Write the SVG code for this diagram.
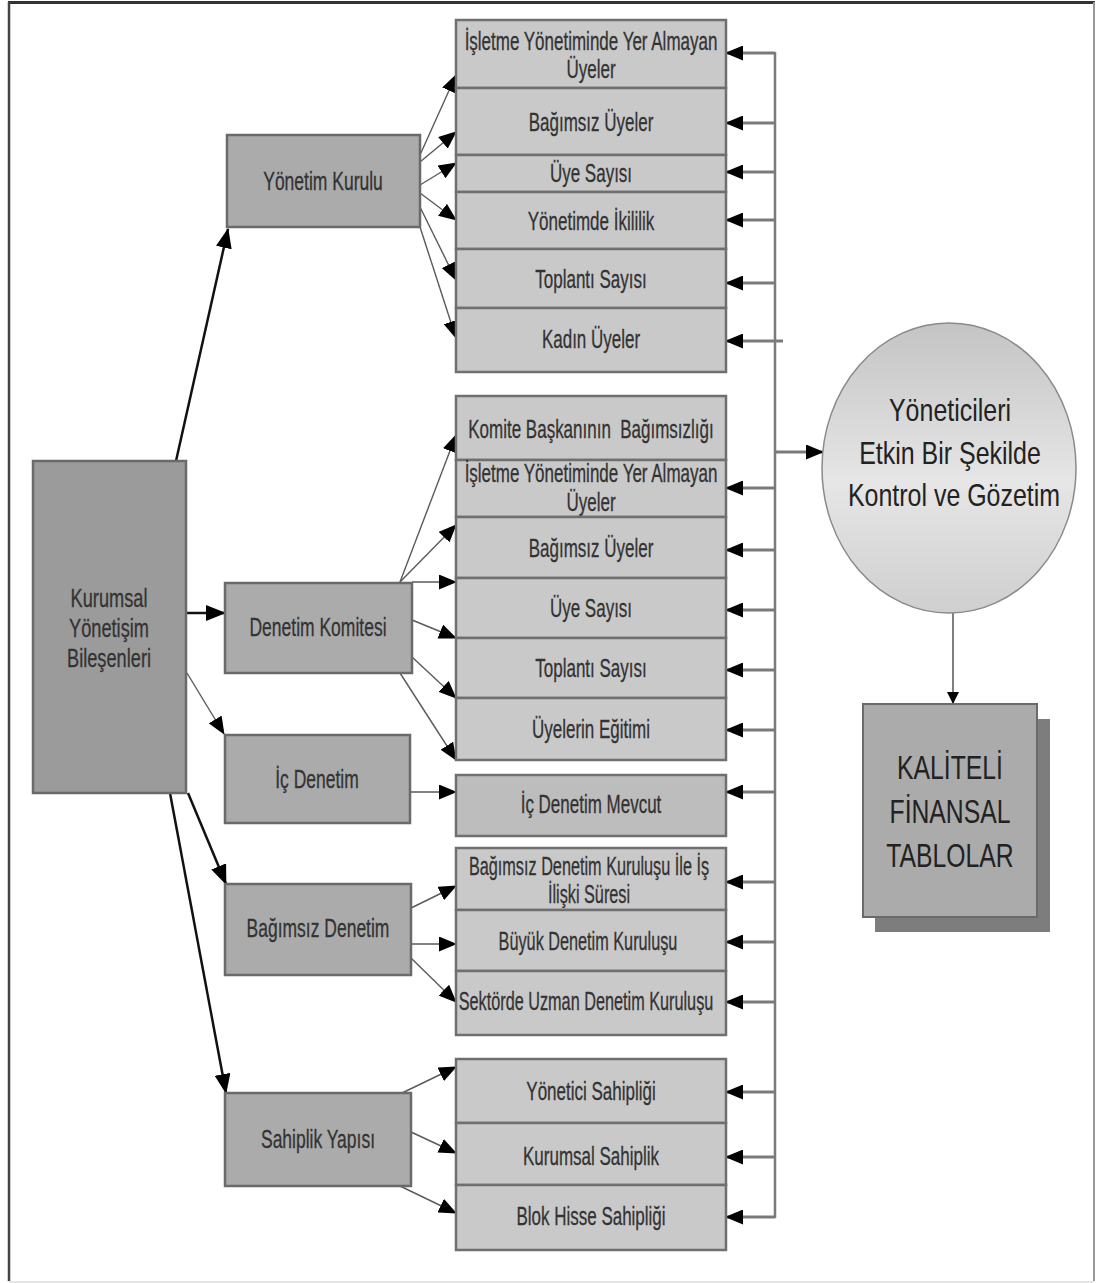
<svg xmlns="http://www.w3.org/2000/svg" width="1097" height="1283" viewBox="0 0 1097 1283">
<defs>
<style>
.main{fill:#9b9b9b;stroke:#6a6a6a;stroke-width:2.5}
.lbox{fill:#ababab;stroke:#6a6a6a;stroke-width:2.5}
.ibox{fill:#c9c9c9;stroke:#6f6f6f;stroke-width:2.5}
.ibox2{fill:#bdbdbd;stroke:#6f6f6f;stroke-width:2.5}
.t{font-family:"Liberation Sans",Arial,sans-serif;font-size:25px;fill:#333;stroke:#333;stroke-width:0.3;text-anchor:middle}
.big{font-family:"Liberation Sans",Arial,sans-serif;fill:#222;text-anchor:middle}
.thick{stroke:#111;stroke-width:2.5;fill:none;marker-end:url(#ahb)}
.thin{stroke:#5a5a5a;stroke-width:1.4;fill:none;marker-end:url(#ah)}
.rt{stroke:#7a7a7a;stroke-width:3;fill:none;marker-end:url(#ah)}
.vert{stroke:#7a7a7a;stroke-width:2.5;fill:none}
</style>
<marker id="ah" markerWidth="18" markerHeight="15" refX="17" refY="7.5" orient="auto" markerUnits="userSpaceOnUse"><path d="M0,0 L18,7.5 L0,15 z" fill="#000"/></marker>
<marker id="ahb" markerWidth="20" markerHeight="16" refX="19" refY="8" orient="auto" markerUnits="userSpaceOnUse"><path d="M0,0 L20,8 L0,16 z" fill="#000"/></marker>
<marker id="ahs" markerWidth="12" markerHeight="12" refX="12" refY="6" orient="auto" markerUnits="userSpaceOnUse"><path d="M0,0 L12,6 L0,12 z" fill="#000"/></marker>
<linearGradient id="cg" x1="0" y1="0" x2="0" y2="1">
<stop offset="0" stop-color="#c4c4c4"/>
<stop offset="0.55" stop-color="#e6e6e6"/>
<stop offset="1" stop-color="#cfcfcf"/>
</linearGradient>
</defs>
<rect width="1097" height="1283" fill="#fff"/>
<g id="frame">
<line x1="8" y1="2.5" x2="1095" y2="2.5" stroke="#333" stroke-width="3"/>
<line x1="9" y1="2" x2="9" y2="1281" stroke="#444" stroke-width="2.5"/>
<line x1="1094" y1="2" x2="1094" y2="1281" stroke="#999" stroke-width="2"/>
<line x1="9" y1="1282" x2="1094" y2="1282" stroke="#ddd" stroke-width="1.5"/>
</g>

<g id="connectors">
<line class="thick" x1="176" y1="461" x2="228" y2="229"/>
<line class="thick" x1="187" y1="613" x2="225" y2="613"/>
<line class="thin" x1="187" y1="673" x2="224" y2="734"/>
<line class="thick" x1="188" y1="793" x2="226" y2="884"/>
<line class="thick" x1="170" y1="793" x2="226" y2="1093"/>

<line class="thin" x1="420" y1="155" x2="456" y2="75"/>
<line class="thin" x1="420" y1="162" x2="456" y2="132"/>
<line class="thin" x1="420" y1="185" x2="456" y2="163"/>
<line class="thin" x1="420" y1="193" x2="456" y2="220"/>
<line class="thin" x1="420" y1="207" x2="456" y2="280"/>
<line class="thin" x1="420" y1="227" x2="456" y2="338"/>

<line class="thin" x1="400" y1="582" x2="456" y2="435"/>
<line class="thin" x1="400" y1="582" x2="456" y2="525"/>
<line class="thin" x1="412" y1="582" x2="456" y2="582"/>
<line class="thin" x1="412" y1="620" x2="456" y2="638"/>
<line class="thin" x1="412" y1="657" x2="456" y2="698"/>
<line class="thin" x1="400" y1="673" x2="456" y2="760"/>

<line class="thin" x1="410" y1="792" x2="456" y2="792"/>

<line class="thin" x1="411" y1="908" x2="456" y2="886"/>
<line class="thin" x1="411" y1="944" x2="456" y2="944"/>
<line class="thin" x1="411" y1="958" x2="456" y2="1002"/>

<line class="thin" x1="402" y1="1093" x2="456" y2="1067"/>
<line class="thin" x1="411" y1="1132" x2="456" y2="1153"/>
<line class="thin" x1="400" y1="1186" x2="456" y2="1213"/>

<line class="vert" x1="775" y1="52" x2="775" y2="1218"/>
<line class="rt" x1="775" y1="53" x2="726" y2="53"/>
<line class="rt" x1="775" y1="123" x2="726" y2="123"/>
<line class="rt" x1="775" y1="172" x2="726" y2="172"/>
<line class="rt" x1="775" y1="220" x2="726" y2="220"/>
<line class="rt" x1="775" y1="283" x2="726" y2="283"/>
<line class="rt" x1="783" y1="341" x2="726" y2="341"/>
<line class="rt" x1="775" y1="488" x2="726" y2="488"/>
<line class="rt" x1="775" y1="550" x2="726" y2="550"/>
<line class="rt" x1="775" y1="610" x2="726" y2="610"/>
<line class="rt" x1="775" y1="670" x2="726" y2="670"/>
<line class="rt" x1="775" y1="730" x2="726" y2="730"/>
<line class="rt" x1="775" y1="792" x2="726" y2="792"/>
<line class="rt" x1="775" y1="882" x2="726" y2="882"/>
<line class="rt" x1="775" y1="942" x2="726" y2="942"/>
<line class="rt" x1="775" y1="1002" x2="726" y2="1002"/>
<line class="rt" x1="775" y1="1092" x2="726" y2="1092"/>
<line class="rt" x1="775" y1="1157" x2="726" y2="1157"/>
<line class="rt" x1="775" y1="1217" x2="726" y2="1217"/>
<line class="rt" x1="775" y1="452" x2="823" y2="452"/>
<line x1="953" y1="613" x2="953" y2="704" stroke="#555" stroke-width="1.5" marker-end="url(#ahs)"/>
</g>

<g id="n-kurumsal">
<rect class="main" x="33" y="461" width="153" height="332"/>
<text class="t" transform="translate(109,607) scale(0.7,1)" style="font-size:26px">Kurumsal</text>
<text class="t" transform="translate(109,637) scale(0.7,1)" style="font-size:26px">Yönetişim</text>
<text class="t" transform="translate(109,667) scale(0.7,1)" style="font-size:26px">Bileşenleri</text>
</g>

<g id="n-yonetim-kurulu">
<rect class="lbox" x="227" y="135" width="193" height="92"/>
<text class="t" transform="translate(323,190) scale(0.7,1)">Yönetim Kurulu</text>
</g>
<g id="n-denetim-komitesi">
<rect class="lbox" x="225" y="583" width="187" height="90"/>
<text class="t" transform="translate(318,636) scale(0.7,1)">Denetim Komitesi</text>
</g>
<g id="n-ic-denetim">
<rect class="lbox" x="225" y="735" width="185" height="88"/>
<text class="t" transform="translate(317,788) scale(0.7,1)">İç Denetim</text>
</g>
<g id="n-bagimsiz-denetim">
<rect class="lbox" x="225" y="884" width="186" height="91"/>
<text class="t" transform="translate(318,937) scale(0.7,1)">Bağımsız Denetim</text>
</g>
<g id="n-sahiplik">
<rect class="lbox" x="225" y="1093" width="186" height="93"/>
<text class="t" transform="translate(318,1148) scale(0.7,1)">Sahiplik Yapısı</text>
</g>

<g id="n-yk-1">
<rect class="ibox" x="456" y="20" width="270" height="68"/>
<text class="t" transform="translate(591,50) scale(0.68,1)">İşletme Yönetiminde Yer Almayan</text>
<text class="t" transform="translate(591,78) scale(0.68,1)">Üyeler</text>
</g>
<g id="n-yk-2"><rect class="ibox" x="456" y="88" width="270" height="67"/><text class="t" transform="translate(591,131) scale(0.68,1)">Bağımsız Üyeler</text></g>
<g id="n-yk-3"><rect class="ibox" x="456" y="155" width="270" height="37"/><text class="t" transform="translate(591,182) scale(0.68,1)">Üye Sayısı</text></g>
<g id="n-yk-4"><rect class="ibox" x="456" y="192" width="270" height="57"/><text class="t" transform="translate(591,230) scale(0.68,1)">Yönetimde İkililik</text></g>
<g id="n-yk-5"><rect class="ibox" x="456" y="249" width="270" height="59"/><text class="t" transform="translate(591,288) scale(0.68,1)">Toplantı Sayısı</text></g>
<g id="n-yk-6"><rect class="ibox" x="456" y="308" width="270" height="64"/><text class="t" transform="translate(591,348) scale(0.68,1)">Kadın Üyeler</text></g>

<g id="n-dk-1"><rect class="ibox" x="456" y="396" width="270" height="64"/><text class="t" xml:space="preserve" transform="translate(591,438) scale(0.68,1)">Komite Başkanının  Bağımsızlığı</text></g>
<g id="n-dk-2"><rect class="ibox" x="456" y="460" width="270" height="57"/>
<text class="t" transform="translate(591,482) scale(0.68,1)">İşletme Yönetiminde Yer Almayan</text>
<text class="t" transform="translate(591,511) scale(0.68,1)">Üyeler</text></g>
<g id="n-dk-3"><rect class="ibox" x="456" y="517" width="270" height="61"/><text class="t" transform="translate(591,557) scale(0.68,1)">Bağımsız Üyeler</text></g>
<g id="n-dk-4"><rect class="ibox" x="456" y="578" width="270" height="60"/><text class="t" transform="translate(591,617) scale(0.68,1)">Üye Sayısı</text></g>
<g id="n-dk-5"><rect class="ibox" x="456" y="638" width="270" height="60"/><text class="t" transform="translate(591,677) scale(0.68,1)">Toplantı Sayısı</text></g>
<g id="n-dk-6"><rect class="ibox" x="456" y="698" width="270" height="62"/><text class="t" transform="translate(591,738) scale(0.68,1)">Üyelerin Eğitimi</text></g>

<g id="n-id-1"><rect class="ibox2" x="456" y="775" width="270" height="61"/><text class="t" transform="translate(591,813) scale(0.68,1)">İç Denetim Mevcut</text></g>

<g id="n-bd-1"><rect class="ibox" x="456" y="848" width="270" height="62"/>
<text class="t" transform="translate(589,875) scale(0.65,1)">Bağımsız Denetim Kuruluşu İle İş</text>
<text class="t" transform="translate(589,903) scale(0.65,1)">İlişki Süresi</text></g>
<g id="n-bd-2"><rect class="ibox" x="456" y="910" width="270" height="61"/><text class="t" transform="translate(588,950) scale(0.65,1)">Büyük Denetim Kuruluşu</text></g>
<g id="n-bd-3"><rect class="ibox" x="456" y="971" width="270" height="64"/><text class="t" transform="translate(586,1010) scale(0.65,1)">Sektörde Uzman Denetim Kuruluşu</text></g>

<g id="n-sy-1"><rect class="ibox" x="456" y="1059" width="270" height="64"/><text class="t" transform="translate(591,1100) scale(0.68,1)">Yönetici Sahipliği</text></g>
<g id="n-sy-2"><rect class="ibox" x="456" y="1123" width="270" height="62"/><text class="t" transform="translate(591,1165) scale(0.68,1)">Kurumsal Sahiplik</text></g>
<g id="n-sy-3"><rect class="ibox" x="456" y="1185" width="270" height="65"/><text class="t" transform="translate(591,1225) scale(0.68,1)">Blok Hisse Sahipliği</text></g>

<g id="n-circle">
<ellipse cx="949" cy="468" rx="127" ry="145" fill="url(#cg)" stroke="#8a8a8a" stroke-width="1.5"/>
<text class="big" transform="translate(950,421) scale(0.78,1)" style="font-size:32px">Yöneticileri</text>
<text class="big" transform="translate(950,464) scale(0.78,1)" style="font-size:32px">Etkin Bir Şekilde</text>
<text class="big" transform="translate(954,506) scale(0.78,1)" style="font-size:32px">Kontrol ve Gözetim</text>
</g>

<g id="n-kaliteli">
<rect x="875" y="719" width="175" height="213" fill="#7d7d7d"/>
<rect x="863" y="704" width="174" height="213" fill="#ababab" stroke="#6a6a6a" stroke-width="2"/>
<text class="big" transform="translate(950,779) scale(0.75,1)" style="font-size:33px">KALİTELİ</text>
<text class="big" transform="translate(950,823) scale(0.75,1)" style="font-size:33px">FİNANSAL</text>
<text class="big" transform="translate(950,867) scale(0.75,1)" style="font-size:33px">TABLOLAR</text>
</g>
</svg>
